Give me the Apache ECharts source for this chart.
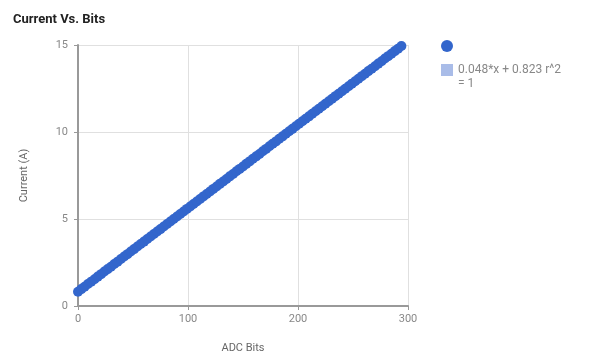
<!DOCTYPE html>
<html>
<head>
<meta charset="utf-8">
<script src="https://cdn.jsdelivr.net/npm/echarts@6/dist/echarts.min.js"></script>
<style>
  html, body { margin: 0; padding: 0; background: #fff; }
  #main { width: 593px; height: 360px; }
</style>
</head>
<body>
<div id="main"></div>
<script>
var myChart = echarts.init(document.getElementById('main'));

let bits = [0, 3, 6, 9, 12, 15, 18, 21, 24, 27, 30, 33, 36, 39, 42, 45, 48, 51, 54, 57,
    60, 63, 66, 69, 72, 75, 78, 81, 84, 87, 90, 93, 96, 99, 102, 105, 108, 111, 114, 117,
    120, 123, 126, 129, 132, 135, 138, 141, 144, 147, 150, 153, 156, 159, 162, 165, 168, 171, 174, 177,
    180, 183, 186, 189, 192, 195, 198, 201, 204, 207, 210, 213, 216, 219, 222, 225, 228, 231, 234, 237,
    240, 243, 246, 249, 252, 255, 258, 261, 264, 267, 270, 273, 276, 279, 282, 285, 288, 291, 294]
let current = [0.82, 0.97, 1.11, 1.26, 1.40, 1.54, 1.69, 1.83, 1.98, 2.12, 2.26, 2.41, 2.55, 2.70, 2.84, 2.98, 3.13, 3.27, 3.42, 3.56,
    3.70, 3.85, 3.99, 4.14, 4.28, 4.42, 4.57, 4.71, 4.86, 5.00, 5.14, 5.29, 5.43, 5.58, 5.72, 5.86, 6.01, 6.15, 6.30, 6.44,
    6.58, 6.73, 6.87, 7.02, 7.16, 7.30, 7.45, 7.59, 7.74, 7.88, 8.02, 8.17, 8.31, 8.46, 8.60, 8.74, 8.89, 9.03, 9.18, 9.32,
    9.46, 9.61, 9.75, 9.90, 10.04, 10.18, 10.33, 10.47, 10.62, 10.76, 10.90, 11.05, 11.19, 11.34, 11.48, 11.62, 11.77, 11.91, 12.06, 12.20,
    12.34, 12.49, 12.63, 12.78, 12.92, 13.06, 13.21, 13.35, 13.50, 13.64, 13.78, 13.93, 14.07, 14.22, 14.36, 14.50, 14.65, 14.79, 14.94]

// trendline end points
let trendX = [0, 300]
let trendY = [0.82, 15.22]

let xTicks = [0, 100, 200, 300]
let yTicks = [0, 5, 10, 15]

let pointsName = ' '
let trendName = '0.048*x + 0.823 r^2'
let trendNameTail = '= 1'

var option = {
    animation: false,
    title: {
        text: 'Current Vs. Bits',
        left: 8,
        top: 8,
        textStyle: { fontFamily: 'Roboto', fontSize: 13, fontWeight: 'bold', color: '#222' }
    },
    legend: {
        orient: 'vertical',
        left: 441,
        top: 40,
        padding: 0,
        itemGap: 12,
        itemWidth: 12,
        itemHeight: 12,
        itemStyle: { borderWidth: 0 },
        data: [
            { name: pointsName, icon: 'circle' },
            { name: trendName, icon: 'rect', itemStyle: { color: '#a9bce8' } }
        ],
        textStyle: { fontFamily: 'Roboto', fontSize: 12, color: '#888' }
    },
    graphic: [
        {
            type: 'text',
            left: 458,
            top: 78,
            style: { text: trendNameTail, font: '12px Roboto', fill: '#888' }
        }
    ],
    grid: { left: 78, right: 185, top: 45, bottom: 54 },
    xAxis: {
        type: 'value',
        min: xTicks[0],
        max: xTicks[xTicks.length - 1],
        interval: 100,
        name: 'ADC Bits',
        nameLocation: 'middle',
        nameGap: 37,
        nameTextStyle: { fontFamily: 'Roboto', fontSize: 11, color: '#666' },
        axisLine: { onZero: false, lineStyle: { color: '#999', width: 2 } },
        axisTick: { show: true, length: 4, lineStyle: { color: '#999' } },
        axisLabel: { fontFamily: 'Roboto', fontSize: 11, color: '#888', margin: 8 },
        splitLine: { lineStyle: { color: '#e0e0e0' } }
    },
    yAxis: {
        type: 'value',
        min: yTicks[0],
        max: yTicks[yTicks.length - 1],
        interval: 5,
        name: 'Current (A)',
        nameLocation: 'middle',
        nameGap: 48,
        nameTextStyle: { fontFamily: 'Roboto', fontSize: 11, color: '#666' },
        axisLine: { show: true, lineStyle: { color: '#999', width: 2 } },
        axisTick: { show: true, length: 4, lineStyle: { color: '#999' } },
        axisLabel: { fontFamily: 'Roboto', fontSize: 11, color: '#888', margin: 10 },
        splitLine: { lineStyle: { color: '#e0e0e0' } }
    },
    series: [
        {
            name: trendName,
            type: 'line',
            data: trendX.map((x, i) => [x, trendY[i]]),
            showSymbol: false,
            lineStyle: { color: '#a9bce8', width: 2 },
            itemStyle: { color: '#a9bce8' },
            z: 1
        },
        {
            name: pointsName,
            type: 'scatter',
            data: bits.map((x, i) => [x, current[i]]),
            symbolSize: 10,
            itemStyle: { color: '#3366cc', opacity: 1 },
            z: 2
        }
    ]
};

myChart.setOption(option);
</script>
</body>
</html>
